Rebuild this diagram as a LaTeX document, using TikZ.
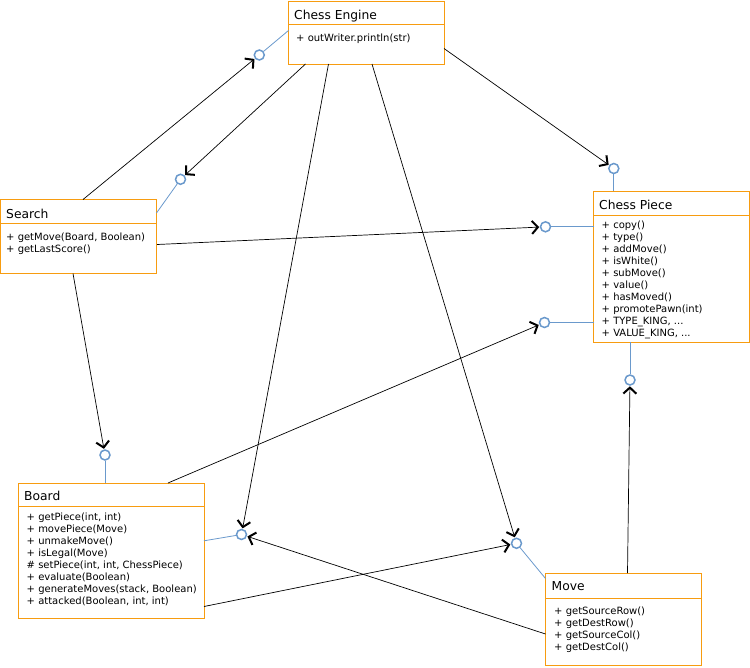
\documentclass[tikz,border=0pt]{standalone}
\usepackage{fontspec}
\setmainfont{DejaVu Sans}
\usetikzlibrary{arrows.meta}
\definecolor{boxorange}{RGB}{247,156,16}
\definecolor{lolliblue}{RGB}{106,153,204}
\newcommand\mytdots{...}
\begin{document}
\begin{tikzpicture}[x=1pt,y=-1pt,
  classbox/.style={draw=boxorange, line width=1pt, fill=white, anchor=north west, inner sep=0pt, outer sep=0pt},
  divider/.style={draw=boxorange, line width=1pt},
  titletext/.style={anchor=base west, inner sep=0pt, font=\fontsize{12.3}{14}\selectfont},
  bodytext/.style={anchor=base west, inner sep=0pt, font=\fontsize{10}{12}\selectfont},
  lolli/.style={circle, draw=lolliblue, line width=1.5pt, fill=white, minimum size=10pt, inner sep=0pt},
  stem/.style={draw=lolliblue, line width=0.8pt},
  dep/.style={draw=black, line width=0.7pt, -{Straight Barb[length=6pt,width=13pt,line width=2pt]}, shorten >=0.5pt}
]
\useasboundingbox (0,0) rectangle (750,667);

% ---------- class boxes ----------
\node[classbox, minimum width=155.5pt, minimum height=63pt] (eng) at (288.5,1) {};
\draw[divider] (eng.west |- 0,24) -- (eng.east |- 0,24);
\node[titletext] (eng-t) at (294,19) {Chess Engine};
\node[bodytext] (eng-1) at (296,41.5) {+ outWriter.println(str)};

\node[classbox, minimum width=156pt, minimum height=74pt] (srch) at (0.5,199.5) {};
\draw[divider] (srch.west |- 0,223) -- (srch.east |- 0,223);
\node[titletext] (srch-t) at (6,218.5) {Search};
\foreach \t [count=\i] in {{+ getMove(Board, Boolean)},{+ getLastScore()}}
  \node[bodytext] (srch-\i) at (6,{240.8+12*(\i-1)}) {\t};

\node[classbox, minimum width=155.5pt, minimum height=151pt] (piece) at (593.5,191) {};
\draw[divider] (piece.west |- 0,215.5) -- (piece.east |- 0,215.5);
\node[titletext] (piece-t) at (599,209) {Chess Piece};
\foreach \t [count=\i] in {{+ copy()},{+ type()},{+ addMove()},{+ isWhite()},{+ subMove()},{+ value()},{+ hasMoved()},{+ promotePawn(int)},{+ TYPE\_KING, \mytdots},{+ VALUE\_KING, \mytdots}}
  \node[bodytext] (piece-\i) at (601.5,{228.3+12.04*(\i-1)}) {\t};

\node[classbox, minimum width=185.5pt, minimum height=135pt] (board) at (18.5,483) {};
\draw[divider] (board.west |- 0,506.5) -- (board.east |- 0,506.5);
\node[titletext] (board-t) at (24,500.7) {Board};
\foreach \t [count=\i] in {{+ getPiece(int, int)},{+ movePiece(Move)},{+ unmakeMove()},{+ isLegal(Move)},{\# setPiece(int, int, ChessPiece)},{+ evaluate(Boolean)},{+ generateMoves(stack, Boolean)},{+ attacked(Boolean, int, int)}}
  \node[bodytext] (board-\i) at (26.5,{520.7+11.9*(\i-1)}) {\t};

\node[classbox, minimum width=155.5pt, minimum height=92pt] (move) at (545.5,573) {};
\draw[divider] (move.west |- 0,598.3) -- (move.east |- 0,598.3);
\node[titletext] (move-t) at (551.5,590.7) {Move};
\foreach \t [count=\i] in {{+ getSourceRow()},{+ getDestRow()},{+ getSourceCol()},{+ getDestCol()}}
  \node[bodytext] (move-\i) at (554,{614+12*(\i-1)}) {\t};

% ---------- lollipops (provided interfaces) ----------
\node[lolli] (ceng) at (259.3,55) {};
\node[lolli] (csrch) at (180.5,179.3) {};
\node[lolli] (cpt) at (613.8,168.5) {};
\node[lolli] (cpl1) at (545.5,226.8) {};
\node[lolli] (cpl2) at (544.5,322.5) {};
\node[lolli] (cpb) at (630,380) {};
\node[lolli] (cbt) at (105,455) {};
\node[lolli] (cbr) at (241.5,534.5) {};
\node[lolli] (cmv) at (516.5,543.3) {};

\coordinate (eng-s) at (288.5,30.5);
\coordinate (srch-s) at (156.5,213);
\coordinate (cpt-s) at (613.8,191);
\coordinate (cpl1-s) at (593.5,226.8);
\coordinate (cpl2-s) at (593.5,322.5);
\coordinate (cpb-s) at (630,342);
\coordinate (cbt-s) at (105,483);
\coordinate (cbr-s) at (204,540.8);
\coordinate (cmv-s) at (545.5,578.5);

\draw[stem] (eng-s) -- (ceng);
\draw[stem] (srch-s) -- (csrch);
\draw[stem] (cpt-s) -- (cpt);
\draw[stem] (cpl1-s) -- (cpl1);
\draw[stem] (cpl2-s) -- (cpl2);
\draw[stem] (cpb-s) -- (cpb);
\draw[stem] (cbt-s) -- (cbt);
\draw[stem] (cbr-s) -- (cbr);
\draw[stem] (cmv-s) -- (cmv);

% ---------- dependency arrows ----------
\coordinate (a1) at (83,199.5);
\coordinate (a2) at (305.5,64);
\coordinate (a3) at (444,48.5);
\coordinate (a4) at (157,244.5);
\coordinate (a5) at (73,273.5);
\coordinate (a6) at (168,483);
\coordinate (a7) at (328.5,64);
\coordinate (a8) at (372,64);
\coordinate (a9) at (204,606.5);
\coordinate (a10) at (545.5,634);
\coordinate (a11) at (627.5,573);

\draw[dep] (a1) -- (ceng);
\draw[dep] (a2) -- (csrch);
\draw[dep] (a3) -- (cpt);
\draw[dep] (a4) -- (cpl1);
\draw[dep] (a5) -- (cbt);
\draw[dep] (a6) -- (cpl2);
\draw[dep] (a7) -- (cbr);
\draw[dep] (a8) -- (cmv);
\draw[dep] (a9) -- (cmv);
\draw[dep] (a10) -- (cbr);
\draw[dep] (a11) -- (cpb);
\end{tikzpicture}
\end{document}
